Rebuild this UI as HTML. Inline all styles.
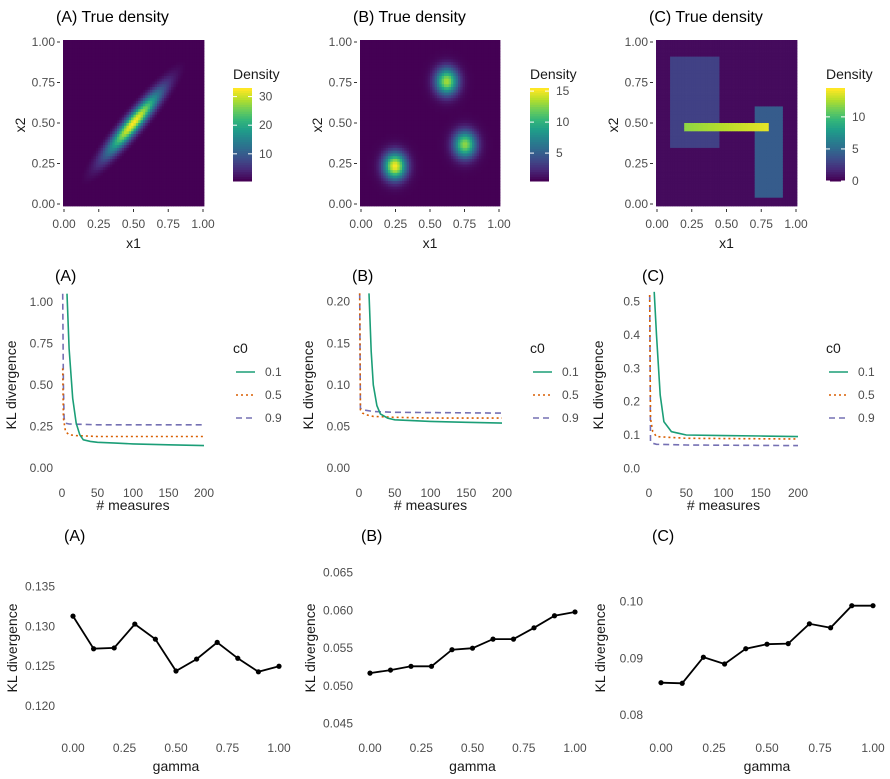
<!DOCTYPE html>
<html><head><meta charset="utf-8"><style>
body{margin:0;background:#fff}
svg{display:block;font-family:"Liberation Sans",sans-serif}
.tk{font-size:12px;fill:#4d4d4d}
.at{font-size:14px;fill:#1a1a1a}
.tt{font-size:16px;fill:#000}
</style></head><body>
<svg id="fig" width="890" height="779" viewBox="0 0 890 779" xmlns="http://www.w3.org/2000/svg"></svg>
<script>
// ---- data: gamma panels ----
const gammaVals=[0,0.1,0.2,0.3,0.4,0.5,0.6,0.7,0.8,0.9,1.0];
const klGammaA=[0.1313,0.1272,0.1273,0.1303,0.1284,0.1244,0.1259,0.1280,0.1260,0.1243,0.1250];
const klGammaB=[0.0517,0.0521,0.0526,0.0526,0.0548,0.0550,0.0562,0.0562,0.0577,0.0593,0.0598];
const klGammaC=[0.0857,0.0856,0.0902,0.0890,0.0917,0.0925,0.0926,0.0961,0.0954,0.0993,0.0993];
const gammaTicks=[0,0.25,0.5,0.75,1.0];
const gammaTickLabels=["0.00","0.25","0.50","0.75","1.00"];
// ---- data: measures panels ----
const c0Levels=["0.1","0.5","0.9"];
const measA1=[7,10,15,20,25,30,40,50,75,100,150,200], klA1=[1.05,0.72,0.42,0.27,0.2,0.17,0.16,0.155,0.15,0.145,0.14,0.135];
const measA5=[1,2,5,10,20,50,200], klA5=[0.6,0.3,0.22,0.2,0.195,0.19,0.19];
const measA9=[1,2,3,5,10,50,200], klA9=[1.05,0.5,0.3,0.27,0.265,0.26,0.26];
const measB1=[14,17,20,25,30,40,50,100,150,200], klB1=[0.21,0.14,0.1,0.075,0.065,0.06,0.058,0.056,0.055,0.054];
const measB5=[1,2,5,10,20,50,100,200], klB5=[0.21,0.07,0.066,0.064,0.062,0.061,0.06,0.06];
const measB9=[1,2,5,20,50,200], klB9=[0.21,0.072,0.07,0.068,0.067,0.066];
const measC1=[7,10,15,20,30,40,50,100,150,200], klC1=[0.53,0.4,0.22,0.14,0.11,0.105,0.1,0.098,0.097,0.095];
const measC5=[1,2,5,10,50,200], klC5=[0.52,0.15,0.11,0.095,0.09,0.088];
const measC9=[1,2,5,10,50,200], klC9=[0.52,0.08,0.075,0.072,0.07,0.068];
const measTicks=[0,50,100,150,200];

const S=document.getElementById('fig');const NS='http://www.w3.org/2000/svg';
function el(t,a,p){const e=document.createElementNS(NS,t);for(const k in a)e.setAttribute(k,a[k]);(p||S).appendChild(e);return e;}
function txt(x,y,s,cls,anchor,rot){const e=el('text',{x:x,y:y,class:cls,'text-anchor':anchor||'start'});if(rot)e.setAttribute('transform','rotate(-90 '+x+' '+y+')');e.textContent=s;return e;}
function lin(d0,d1,r0,r1){return v=>r0+(v-d0)*(r1-r0)/(d1-d0);}
const VIR=['#440154','#482878','#3e4a89','#31688e','#26828e','#1f9e89','#35b779','#6ece58','#b5de2b','#fde725'];
function hx(c){return [1,3,5].map(i=>parseInt(c.substr(i,2),16));}
function vir(t){t=Math.max(0,Math.min(1,t))*9;const i=Math.min(8,Math.floor(t)),f=t-i;const a=hx(VIR[i]),b=hx(VIR[i+1]);return 'rgb('+a.map((v,k)=>Math.round(v+(b[k]-v)*f)).join(',')+')';}

// ---- top row heatmaps ----
function densA(x,y){const r=0.93,s=0.13,u=(x-0.5)/s,v=(y-0.5)/s;return 33*Math.exp(-(u*u-2*r*u*v+v*v)/(2*(1-r*r)));}
function densB(x,y){const c=[[0.25,0.24,15],[0.62,0.75,13],[0.75,0.37,12.5]];let s=0.5;for(const[a,b,h]of c){s+=h*Math.exp(-((x-a)**2+(y-b)**2)/(2*0.055*0.055));}return s;}
function densC(x,y){let d=0.4;if(x>0.1&&x<0.45&&y>0.35&&y<0.9)d=2.8;if(x>0.7&&x<0.9&&y>0.05&&y<0.6)d=4.2;if(x>0.2&&x<0.8&&y>0.45&&y<0.5)d=12+2*(x-0.2)/0.6;return d;}
const heat=[
 {id:'a',lab:'A',f:densA,x0:63,x1:204,vmin:0.5,vmax:33,cb:233,ticks:[10,20,30]},
 {id:'b',lab:'B',f:densB,x0:360,x1:500,vmin:0.5,vmax:15.5,cb:530,ticks:[5,10,15]},
 {id:'c',lab:'C',f:densC,x0:656,x1:797,vmin:0,vmax:14.5,cb:826,ticks:[0,5,10]}];
const y0=40,y1=206,N=60;
heat.forEach(h=>{
 const g=el('g',{});
 const cw=(h.x1-h.x0)/N,ch=(y1-y0)/N;
 for(let i=0;i<N;i++)for(let j=0;j<N;j++){const v=h.f((i+0.5)/N,1-(j+0.5)/N);
  el('rect',{x:(h.x0+i*cw).toFixed(2),y:(y0+j*ch).toFixed(2),width:(cw+0.4).toFixed(2),height:(ch+0.4).toFixed(2),fill:vir((v-h.vmin)/(h.vmax-h.vmin))},g);}
 const t=txt(h.x0-7,22,'('+h.lab+') True density','tt');
 const sx=lin(0,1,h.x0+1,h.x1-1),sy=lin(0,1,204,42);
 [0,0.25,0.5,0.75,1].forEach((v,k)=>{const l=['0.00','0.25','0.50','0.75','1.00'][k];
  el('line',{x1:sx(v),x2:sx(v),y1:209,y2:212,stroke:'#333'});txt(sx(v),228,l,'tk','middle');
  el('line',{x1:h.x0-6,x2:h.x0-3,y1:sy(v),y2:sy(v),stroke:'#333'});txt(h.x0-8,sy(v)+4,l,'tk','end');});
 txt((h.x0+h.x1)/2,248,'x1','at','middle');txt(h.x0-38,(y0+y1)/2+2,'x2','at','middle',true);
 const cg=el('g',{});
 const cb0=88,cb1=181;for(let k=0;k<40;k++){el('rect',{x:h.cb,y:cb1-(k+1)*(cb1-cb0)/40,width:19,height:(cb1-cb0)/40+0.5,fill:vir(k/39)},cg);}
 txt(h.cb,79,'Density','at','start');
 const cy=lin(h.vmin,h.vmax,cb1,cb0);
 h.ticks.forEach(v=>{el('line',{x1:h.cb,x2:h.cb+4,y1:cy(v),y2:cy(v),stroke:'#fff'},cg);el('line',{x1:h.cb+15,x2:h.cb+19,y1:cy(v),y2:cy(v),stroke:'#fff'},cg);txt(h.cb+26,cy(v)+4,String(v),'tk','start');});
});

// ---- middle row ----
const COL=['#1b9e77','#d95f02','#7570b3'],DASH=['','2,3','6,4'];
const mid=[
 {id:'a',lab:'A',xa:62,xb:204,ya:0,yb:1.0,pa:468,pb:302,yt:[0,0.25,0.5,0.75,1],yl:['0.00','0.25','0.50','0.75','1.00'],top:1.06,bot:-0.05,series:[[measA1,klA1],[measA5,klA5],[measA9,klA9]],leg:233},
 {id:'b',lab:'B',xa:359,xb:502,ya:0,yb:0.2,pa:468,pb:301.7,yt:[0,0.05,0.1,0.15,0.2],yl:['0.00','0.05','0.10','0.15','0.20'],top:0.212,bot:-0.01,series:[[measB1,klB1],[measB5,klB5],[measB9,klB9]],leg:530},
 {id:'c',lab:'C',xa:649,xb:798,ya:0,yb:0.5,pa:468.3,pb:301.7,yt:[0,0.1,0.2,0.3,0.4,0.5],yl:['0.0','0.1','0.2','0.3','0.4','0.5'],top:0.53,bot:-0.025,series:[[measC1,klC1],[measC5,klC5],[measC9,klC9]],leg:826}];
mid.forEach(p=>{
 const sx=lin(0,200,p.xa,p.xb),sy=lin(p.ya,p.yb,p.pa,p.pb);
 const t=txt(p.xa-7,281,'('+p.lab+')','tt');
 p.yt.forEach((v,k)=>txt(p.xa-9,sy(v)+4,p.yl[k],'tk','end'));
 measTicks.forEach(v=>txt(sx(v),497,String(v),'tk','middle'));
 txt((p.xa+p.xb)/2,510,'# measures','at','middle');txt(p.xa-46,385,'KL divergence','at','middle',true);
 const cid='clip'+p.id;const cp=el('clipPath',{id:cid});el('rect',{x:p.xa-8,y:sy(p.top),width:p.xb-p.xa+16,height:sy(p.bot)-sy(p.top)},cp);
 const g=el('g',{'clip-path':'url(#'+cid+')'});
 p.series.slice().reverse().forEach((s,ri)=>{const i=2-ri;const pl=el('polyline',{points:s[0].map((m,k)=>sx(m).toFixed(1)+','+sy(s[1][k]).toFixed(1)).join(' '),fill:'none',stroke:COL[i],'stroke-width':1.6,'stroke-dasharray':DASH[i]},g);
  });
 const lg=el('g',{});
 txt(p.leg,353,'c0','at','start');
 c0Levels.forEach((c,i)=>{const y=372+i*23;el('line',{x1:p.leg+3,x2:p.leg+22,y1:y,y2:y,stroke:COL[i],'stroke-width':1.6,'stroke-dasharray':DASH[i]},lg);txt(p.leg+32,y+4,c,'tk','start');});
});

// ---- bottom row ----
const bot=[
 {id:'a',lab:'A',xa:73,xb:279,v0:0.135,p0:586.7,v1:0.120,p1:706,yt:[0.12,0.125,0.13,0.135],yl:['0.120','0.125','0.130','0.135'],lx:55,vals:klGammaA},
 {id:'b',lab:'B',xa:370,xb:575,v0:0.065,p0:572.7,v1:0.045,p1:723.7,yt:[0.045,0.05,0.055,0.06,0.065],yl:['0.045','0.050','0.055','0.060','0.065'],lx:353,vals:klGammaB},
 {id:'c',lab:'C',xa:661,xb:873,v0:0.10,p0:601.7,v1:0.08,p1:715,yt:[0.08,0.09,0.1],yl:['0.08','0.09','0.10'],lx:643,vals:klGammaC}];
bot.forEach(p=>{
 const sx=lin(0,1,p.xa,p.xb),sy=lin(p.v1,p.v0,p.p1,p.p0);
 const t=txt(p.xa-9,541,'('+p.lab+')','tt');
 p.yt.forEach((v,k)=>txt(p.lx,sy(v)+4,p.yl[k],'tk','end'));
 gammaTicks.forEach((v,k)=>txt(sx(v),752,gammaTickLabels[k],'tk','middle'));
 txt((p.xa+p.xb)/2,771,'gamma','at','middle');txt(p.lx-38,648,'KL divergence','at','middle',true);
 const g=el('g',{});
 el('polyline',{points:gammaVals.map((x,k)=>sx(x).toFixed(1)+','+sy(p.vals[k]).toFixed(1)).join(' '),fill:'none',stroke:'#000','stroke-width':1.8},g);
 gammaVals.forEach((x,k)=>{const c=el('circle',{cx:sx(x),cy:sy(p.vals[k]),r:2.6,fill:'#000'},g);});
});
</script>
</body></html>
